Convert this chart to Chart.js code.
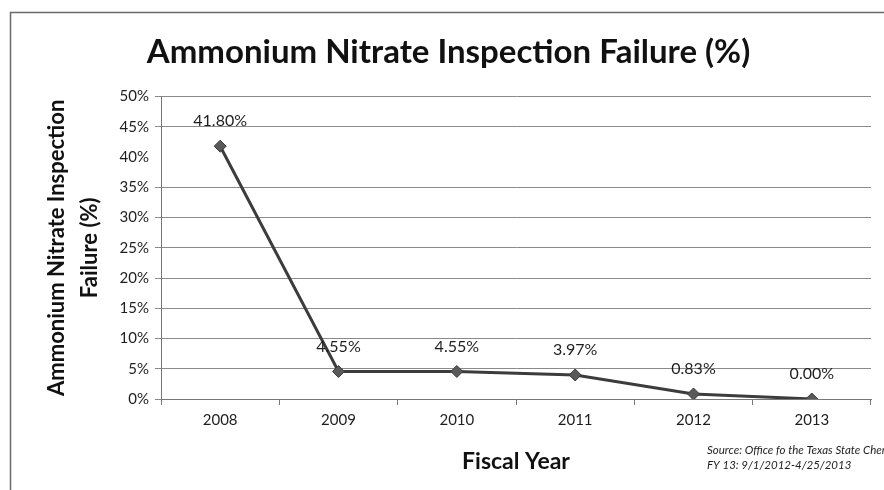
<!DOCTYPE html>
<html>
<head>
<meta charset="utf-8">
<script src="https://cdn.jsdelivr.net/npm/chart.js@4"></script>
<style>
  html, body { margin: 0; padding: 0; background: #fff; }
  #wrap { width: 884px; height: 490px; position: relative; }
</style>
</head>
<body>
<div id="wrap"><canvas id="chart" width="884" height="490"></canvas></div>
<script>
// dados
const fiscalYears = ['2008', '2009', '2010', '2011', '2012', '2013'];
const failureRates = [41.80, 4.55, 4.55, 3.97, 0.83, 0.00];
const yTickStep = 5;
const yMax = 50;
const sourceLines = ['Source: Office fo the Texas State Chemist', 'FY 13: 9/1/2012-4/25/2013'];

const textColor = '#1e1e1e';
const baseFont = 'Lato, "Open Sans", sans-serif';

// moldura, rótulos dos pontos e nota da fonte
const extrasPlugin = {
    id: 'extras',
    beforeDraw(chart) {
        const ctx = chart.ctx;
        ctx.save();
        ctx.strokeStyle = '#6a6a6a';
        ctx.lineWidth = 1.5;
        ctx.beginPath();
        ctx.moveTo(10.5, 490);
        ctx.lineTo(10.5, 12.5);
        ctx.lineTo(884, 12.5);
        ctx.stroke();
        ctx.restore();
    },
    afterDatasetsDraw(chart) {
        const ctx = chart.ctx;
        const meta = chart.getDatasetMeta(0);
        ctx.save();
        ctx.font = '16px ' + baseFont;
        ctx.fillStyle = textColor;
        ctx.textAlign = 'center';
        ctx.textBaseline = 'middle';
        meta.data.forEach((pt, i) => {
            ctx.fillText(failureRates[i].toFixed(2) + '%', pt.x, pt.y - 25);
        });
        ctx.font = 'italic 11.5px ' + baseFont;
        ctx.textAlign = 'left';
        sourceLines.forEach((line, i) => {
            ctx.fillText(line, 707, 450 + i * 15);
        });
        ctx.restore();
    }
};

new Chart(document.getElementById('chart'), {
    type: 'line',
    data: {
        labels: fiscalYears,
        datasets: [{
            data: failureRates,
            borderColor: '#3c3c3c',
            borderWidth: 3,
            pointStyle: 'rectRot',
            pointRadius: 6,
            pointBackgroundColor: '#5a5a5a',
            pointBorderColor: '#3a3a3a',
            pointBorderWidth: 1,
            tension: 0
        }]
    },
    options: {
        responsive: false,
        animation: false,
        layout: {
            padding: { left: 26, right: 13, top: 12, bottom: 0 }
        },
        plugins: {
            legend: { display: false },
            tooltip: { enabled: false },
            title: {
                display: true,
                text: 'Ammonium Nitrate Inspection Failure (%)',
                color: '#111',
                font: { family: baseFont, size: 33, weight: 'bold' },
                padding: { top: 21, bottom: 24 }
            }
        },
        scales: {
            x: {
                offset: true,
                afterFit: (scale) => { scale.height = 91; },
                grid: {
                    offset: true,
                    drawOnChartArea: false,
                    tickLength: 6,
                    color: '#777'
                },
                border: { color: '#777', width: 1 },
                ticks: {
                    color: textColor,
                    font: { family: baseFont, size: 15 },
                    padding: 6
                },
                title: {
                    display: true,
                    text: 'Fiscal Year',
                    color: '#111',
                    font: { family: baseFont, size: 23, weight: 'bold' },
                    padding: { top: 10, bottom: 15 }
                }
            },
            y: {
                min: 0,
                max: yMax,
                afterFit: (scale) => { scale.width = 135; },
                grid: {
                    color: (c) => c.tick && c.tick.value === 40 ? 'rgba(0,0,0,0)' : '#8a8a8a',
                    tickLength: 6,
                    lineWidth: 1
                },
                border: { color: '#777', width: 1 },
                ticks: {
                    stepSize: yTickStep,
                    color: textColor,
                    font: { family: baseFont, size: 15 },
                    padding: 6,
                    callback: (v) => v + '%'
                },
                title: {
                    display: true,
                    text: ['Ammonium Nitrate Inspection', 'Failure (%)'],
                    color: '#111',
                    font: { family: baseFont, size: 22, weight: 'bold', lineHeight: 1.5 },
                    padding: { top: 14, bottom: 0 }
                }
            }
        }
    },
    plugins: [extrasPlugin]
});
</script>
</body>
</html>
